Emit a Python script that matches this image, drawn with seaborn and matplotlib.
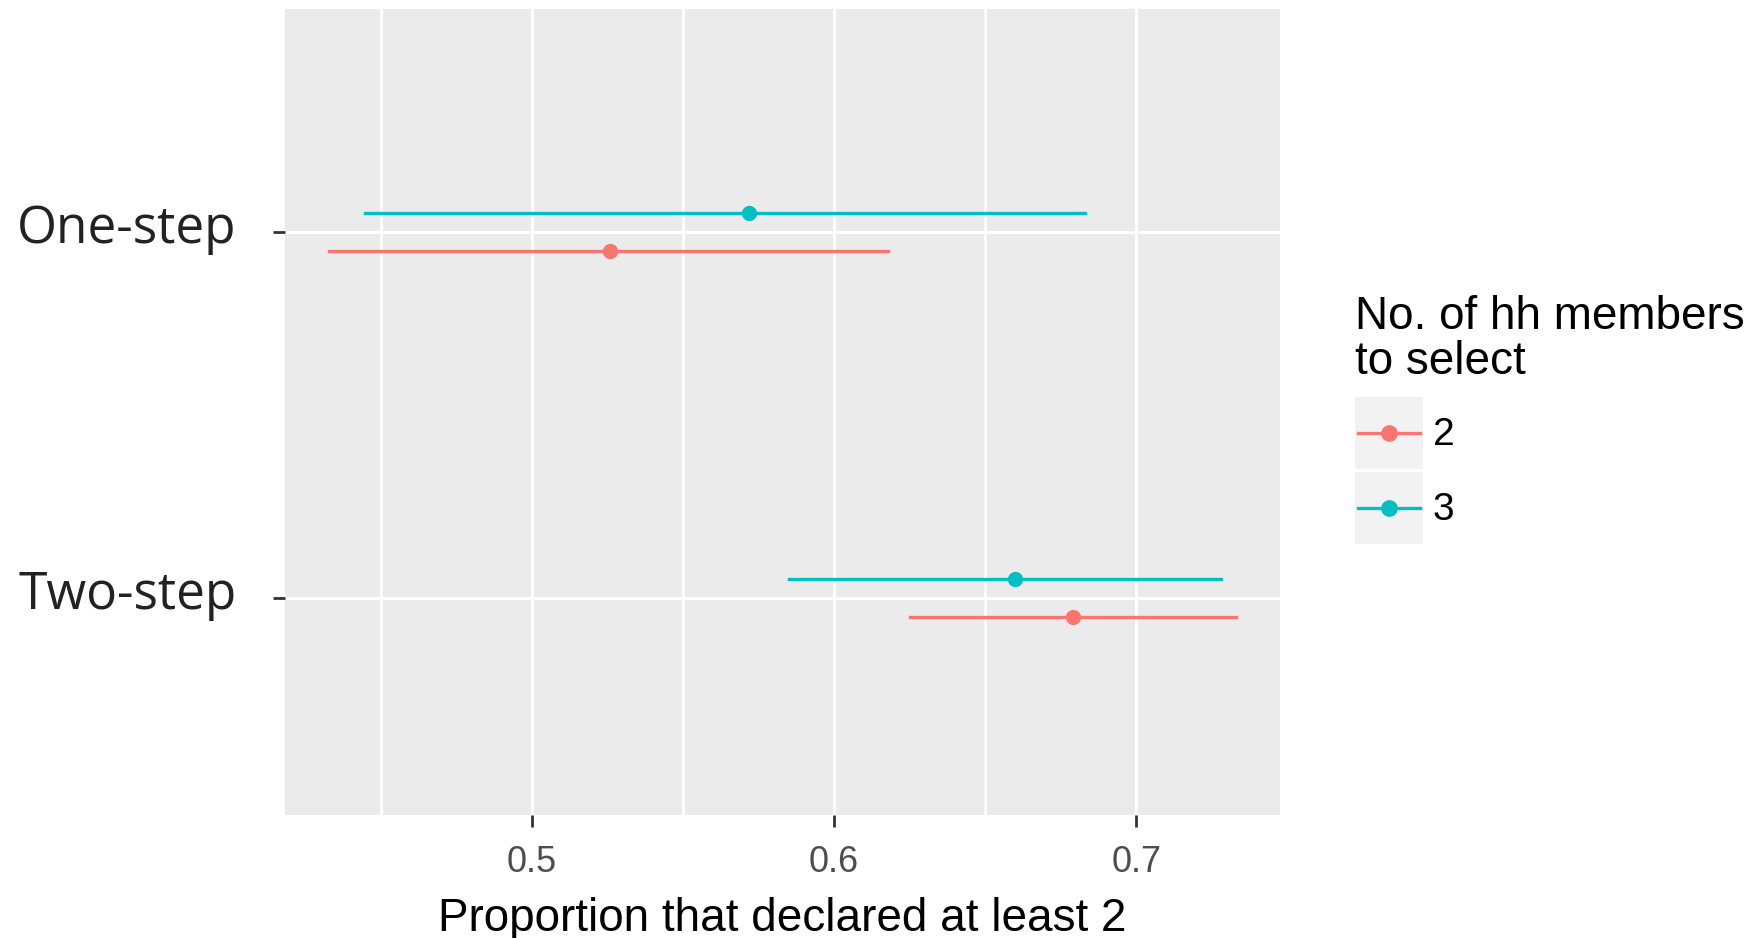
import pandas as pd
import seaborn as sns
import matplotlib.pyplot as plt
from matplotlib.lines import Line2D
from matplotlib.patches import Rectangle
from matplotlib.legend_handler import HandlerLine2D
from matplotlib.ticker import MultipleLocator
from matplotlib.transforms import ScaledTranslation

# Dados
metodos = ['One-step', 'Two-step']
n_membros = ['2', '3']
cores = {'2': '#F8766D', '3': '#00BFC4'}

# proporcao estimada e intervalo (baixo, alto) por metodo
est_2 = [0.526, 0.679]
baixo_2 = [0.433, 0.625]
alto_2 = [0.618, 0.733]

est_3 = [0.572, 0.660]
baixo_3 = [0.445, 0.585]
alto_3 = [0.683, 0.728]

# tabela longa: mediana = estimativa, min/max = intervalo
linhas = []
for grupo, est, lo, hi in [('2', est_2, baixo_2, alto_2), ('3', est_3, baixo_3, alto_3)]:
    for i, m in enumerate(metodos):
        for v in (lo[i], est[i], hi[i]):
            linhas.append({'metodo': m, 'n': grupo, 'valor': v})
df = pd.DataFrame(linhas)


class ChaveGgplot(HandlerLine2D):
    # chave da legenda com fundo cinza, como no ggplot
    def create_artists(self, legend, orig_handle, xdescent, ydescent, width, height, fontsize, trans):
        fundo = Rectangle((-xdescent, -ydescent), width, height, facecolor='#F2F2F2',
                          edgecolor='none', transform=trans)
        pad = 0.05 * width
        yc = -ydescent + height / 2
        linha = Line2D([-xdescent + pad, -xdescent + width - pad], [yc, yc],
                       color=orig_handle.get_color(), linewidth=orig_handle.get_linewidth(),
                       transform=trans)
        ponto = Line2D([-xdescent + width / 2], [yc], marker='o', linestyle='none',
                       color=orig_handle.get_color(), markersize=orig_handle.get_markersize(),
                       transform=trans)
        return [fundo, linha, ponto]


fig = plt.figure(figsize=(17.55, 9.38), dpi=100)
ax = fig.add_axes([0.1624, 0.1311, 0.5669, 0.8593])

sns.pointplot(data=df, x='valor', y='metodo', hue='n', hue_order=n_membros, order=metodos,
              palette=cores, estimator='median', errorbar=('pi', 100), dodge=-0.104,
              linestyles='none', markers='o', markersize=11, markeredgewidth=0,
              err_kws={'linewidth': 2.4}, legend=False, ax=ax)

ax.set_facecolor('#EBEBEB')
for s in ax.spines.values():
    s.set_visible(False)
ax.set_xlim(0.4184, 0.7475)
ax.set_ylim(1.592, -0.608)
ax.set_xticks([0.5, 0.6, 0.7])
ax.set_xticklabels(['0.5', '0.6', '0.7'])
ax.xaxis.set_minor_locator(MultipleLocator(0.05))
ax.grid(which='major', color='white', linewidth=2.2)
ax.grid(which='minor', axis='x', color='white', linewidth=2.0)
ax.set_axisbelow(True)

ax.tick_params(axis='x', which='major', length=8.6, width=2, color='#333333', pad=13,
               labelsize=26, labelcolor='#4D4D4D')
ax.tick_params(axis='x', which='minor', length=0)
ax.tick_params(axis='y', length=9, width=2, color='#333333', pad=26,
               labelsize=37, labelcolor='#222222')
for t in ax.get_xticklabels():
    t.set_fontfamily('Liberation Sans')
desloc = ScaledTranslation(0, 6 / 72, fig.dpi_scale_trans)
for t in ax.get_yticklabels():
    t.set_fontfamily('Open Sans')
    t.set_transform(t.get_transform() + desloc)

ax.set_ylabel('')
ax.set_xlabel('Proportion that declared at least 2', fontsize=33, family='Liberation Sans',
              color='black', labelpad=12)

handles = [Line2D([], [], color=cores[g], linewidth=2.4, marker='o', markersize=11) for g in n_membros]
leg = fig.legend(handles, n_membros, loc='upper left', bbox_to_anchor=(0.772, 0.686),
                 frameon=False, borderpad=0, handlelength=1.75, handleheight=2.47,
                 handletextpad=0.26, labelspacing=0.08, borderaxespad=0,
                 prop={'family': 'Liberation Sans', 'size': 28},
                 title='No. of hh members\nto select',
                 title_fontproperties={'family': 'Liberation Sans', 'size': 33},
                 alignment='left', handler_map={Line2D: ChaveGgplot()})
leg.get_title().set_linespacing(1.05)
leg._legend_box.sep = 9

plt.savefig('out.png', dpi=100)
